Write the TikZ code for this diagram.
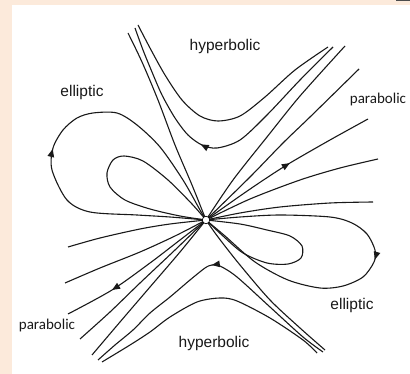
\documentclass[tikz,border=0pt]{standalone}
\usepackage{fontspec}
\setmainfont{Liberation Sans}
\newfontfamily\calibfont{Carlito}
\usetikzlibrary{arrows.meta, decorations.markings}

\definecolor{peach}{RGB}{252,234,219}

\begin{document}
\begin{tikzpicture}[x=1pt, y=-1pt,
  orbit/.style={line width=1.1pt, black!90},
  flowtip/.style={postaction={decorate}, decoration={markings,
      mark=at position #1 with {\arrow{Triangle[length=8pt,width=6.5pt]}}}},
  sector/.style={font=\fontsize{15.5}{15.5}\selectfont, text=black!90},
  parlabel/.style={font=\calibfont\fontsize{15}{15}\selectfont, text=black!90},
  origin/.style={circle, draw=black, fill=white, minimum size=7.5pt, inner sep=0pt, line width=0.7pt},
]
  % --- frame ---
  \fill[peach] (0,0) rectangle (410,374);
  \fill[white] (12,5) rectangle (410,374);
  \fill[black!70] (396,0) rectangle (410,1.2);
  \useasboundingbox (0,0) rectangle (410,374);

  \coordinate (O) at (206,220);

  % --- elliptic sector, left ---
  \draw[orbit, flowtip=0.47] plot[smooth] coordinates {(O) (170,217) (137,215) (90,212) (67,200) (52,170)
    (53,148) (63,130) (77,118) (93,113) (117,113) (137,125) (160,147) (183,180) (200,210) (O)};
  \draw[orbit] plot[smooth] coordinates {(O) (180,216) (150,209) (125,200) (110,187) (107,173) (113,160)
    (124,156) (143,161) (168,180) (192,204) (O)};

  % --- elliptic sector, right ---
  \draw[orbit, flowtip=0.49] plot[smooth] coordinates {(O) (240,217) (280,215) (330,217) (352,223) (367,234)
    (375,250) (374,262) (363,277) (343,286) (320,288) (288,280) (255,262) (225,236) (O)};
  \draw[orbit] plot[smooth] coordinates {(O) (240,224) (267,230) (290,236) (302,246) (301,258) (288,264)
    (267,263) (243,253) (223,236) (O)};

  % --- hyperbolic sector, top ---
  \draw[orbit] plot[smooth] coordinates {(138,25) (150,48) (165,75) (182,100) (200,116) (218,121) (240,116)
    (265,97) (295,70) (328,47)};
  \draw[orbit, flowtip=0.56] plot[smooth] coordinates {(333,47) (300,80) (267,115) (240,140) (217,148) (202,145)
    (188,135) (175,118) (162,95) (152,72) (143,50) (135,28)};
  \draw[orbit] plot[smooth] coordinates {(O) (192,185) (175,145) (158,100) (142,62) (128,33)};
  \draw[orbit] plot[smooth] coordinates {(O) (233,180) (267,137) (300,96) (345,46)};

  % --- hyperbolic sector, bottom ---
  \draw[orbit, flowtip=0.49] plot[smooth] coordinates {(323,352) (303,337) (270,307) (237,277) (220,266) (212,265)
    (205,268) (190,280) (170,297) (150,313) (133,330) (115,345) (98,360)};
  \draw[orbit] plot[smooth] coordinates {(317,353) (303,340) (270,318) (237,301) (220,298) (197,302) (170,317)
    (150,332) (130,345) (102,362)};
  \draw[orbit] plot[smooth] coordinates {(O) (218,237) (240,265) (270,300) (300,328) (325,350)};
  \draw[orbit] plot[smooth] coordinates {(O) (180,252) (150,287) (120,322) (92,355)};

  % --- parabolic sector, upper right ---
  \draw[orbit] plot[smooth] coordinates {(O) (250,177) (283,143) (310,117) (359,69)};
  \draw[orbit, flowtip=0.53] plot[smooth] coordinates {(O) (240,196) (265,179) (290,163) (330,140) (368,119)};
  \draw[orbit] plot[smooth] coordinates {(O) (250,199) (300,180) (340,168) (378,159)};
  \draw[orbit] plot[smooth] coordinates {(O) (240,213) (280,207) (330,203) (373,202)};

  % --- parabolic sector, lower left ---
  \draw[orbit] plot[smooth] coordinates {(O) (170,224) (140,229) (100,238) (68,247)};
  \draw[orbit] plot[smooth] coordinates {(O) (175,236) (140,252) (100,268) (65,283)};
  \draw[orbit, flowtip=0.70] plot[smooth] coordinates {(O) (180,240) (150,263) (112,290) (68,314)};
  \draw[orbit] plot[smooth] coordinates {(O) (175,250) (140,283) (110,312) (80,339)};

  \node[origin] (Odot) at (O) {};

  % --- sector names ---
  \node[sector] (hypT) at (225,46) {hyperbolic};
  \node[sector] (ellL) at (82,92) {elliptic};
  \node[parlabel] (parR) at (378,100) {parabolic};
  \node[parlabel] (parL) at (47,326) {parabolic};
  \node[sector] (ellR) at (352,305) {elliptic};
  \node[sector] (hypB) at (214,343) {hyperbolic};
\end{tikzpicture}
\end{document}
